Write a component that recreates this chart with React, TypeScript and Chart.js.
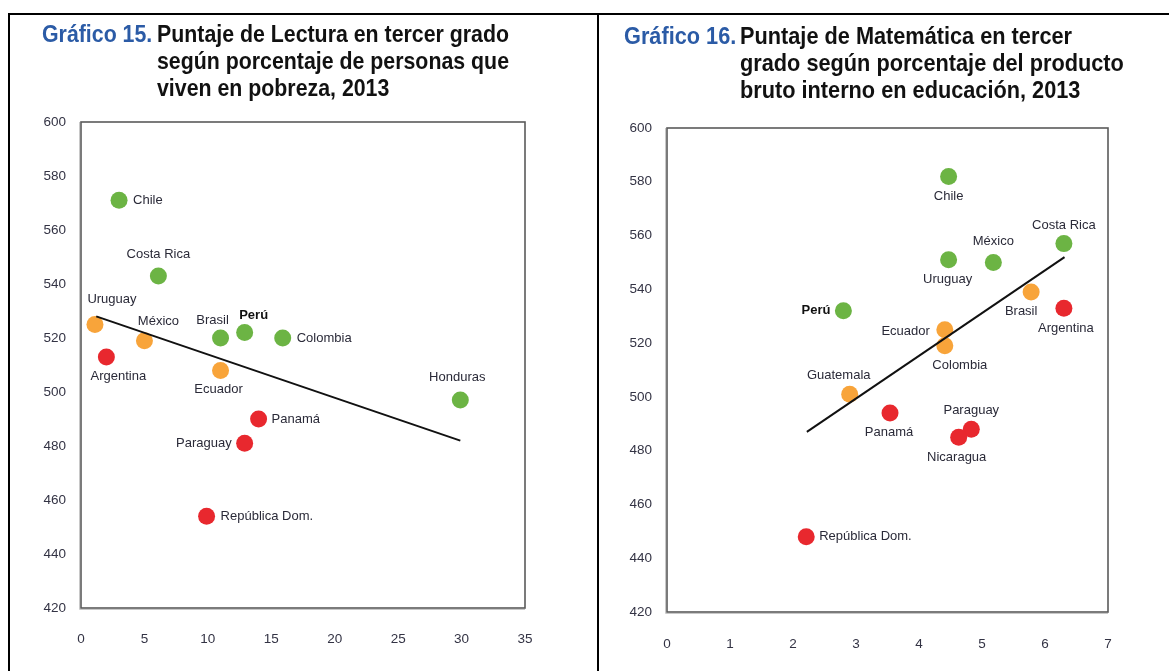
import React, { useEffect, useRef } from 'react';
import { Chart, registerables } from 'chart.js';

Chart.register(...registerables);

// ---------- Data: Gráfico 15 ----------
const countries1 = ['Chile', 'Costa Rica', 'Uruguay', 'Argentina', 'México', 'Brasil', 'Perú', 'Ecuador', 'Colombia', 'Honduras', 'Panamá', 'Paraguay', 'República Dom.'];
const poverty1 = [3.0, 6.1, 1.1, 2.0, 5.0, 11.0, 12.9, 11.0, 15.9, 29.9, 14.0, 12.9, 9.9];
const reading1 = [571, 543, 525, 513, 519, 520, 522, 508, 520, 497, 490, 481, 454];
const group1 = ['g', 'g', 'o', 'r', 'o', 'g', 'g', 'o', 'g', 'g', 'r', 'r', 'r'];
const trendX1 = [1.2, 29.9];
const trendY1 = [528, 482];
const xTicks1 = [0, 5, 10, 15, 20, 25, 30, 35];

// ---------- Data: Gráfico 16 ----------
const countries2 = ['Chile', 'Costa Rica', 'Uruguay', 'México', 'Brasil', 'Argentina', 'Perú', 'Ecuador', 'Colombia', 'Guatemala', 'Panamá', 'Paraguay', 'Nicaragua', 'República Dom.'];
const gdpEdu2 = [4.47, 6.3, 4.47, 5.18, 5.78, 6.3, 2.8, 4.41, 4.41, 2.9, 3.54, 4.83, 4.63, 2.21];
const math2 = [582, 557, 551, 550, 539, 533, 532, 525, 519, 501, 494, 488, 485, 448];
const group2 = ['g', 'g', 'g', 'g', 'o', 'r', 'g', 'o', 'o', 'o', 'r', 'r', 'r', 'r'];
const trendX2 = [2.22, 6.31];
const trendY2 = [487, 552];
const xTicks2 = [0, 1, 2, 3, 4, 5, 6, 7];

const yTicks = [420, 440, 460, 480, 500, 520, 540, 560, 580, 600];

const title1 = ['Gráfico 15.', 'Puntaje de Lectura en tercer grado', 'según porcentaje de personas que', 'viven en pobreza, 2013'];
const title2 = ['Gráfico 16.', 'Puntaje de Matemática en tercer', 'grado según porcentaje del producto', 'bruto interno en educación, 2013'];

// ---------- Styles / label placement ----------
const COLORS: Record<string, string> = { g: '#6cb444', o: '#f8a43a', r: '#e8282e' };

// [align, dx, dy]
type Place = [CanvasTextAlign, number, number];
const place1: Place[] = [
  ['left', 14, 0], ['center', 0, -21], ['center', 17, -25], ['center', 12, 20], ['center', 14, -19],
  ['center', -8, -18], ['center', 9, -17], ['center', -2, 19], ['left', 14, 0], ['center', -3, -23],
  ['left', 13, 0], ['right', -13, 0], ['left', 14, 0],
];
const place2: Place[] = [
  ['center', 0, 20], ['center', 0, -18], ['center', -1, 20], ['center', 0, -21], ['center', -10, 19],
  ['center', 2, 20], ['right', -13, 0], ['right', -15, 2], ['center', 15, 20], ['center', -11, -19],
  ['center', -1, 19], ['center', 0, -19], ['center', -2, 20], ['left', 13, 0],
];

const FONT = '"Liberation Sans", Arial, Helvetica, sans-serif';

interface Cfg {
  width: number;
  height: number;
  countries: string[];
  xs: number[];
  ys: number[];
  groups: string[];
  trendX: number[];
  trendY: number[];
  xTicks: number[];
  places: Place[];
  title: string[];
  pad: { left: number; top: number; right: number };
  yAxisW: number;
  xAxisH: number;
  xPad: number;
  titleX: number[];
  titleTarget: number;
  titleBase: number[];
}

function makeChart(canvas: HTMLCanvasElement, c: Cfg) {
  const overlay = {
    id: 'overlay' + Math.random(),
    beforeDatasetsDraw(chart: any) {
      const { ctx, chartArea: a } = chart;
      ctx.save();
      ctx.strokeStyle = '#c8c8c8';
      ctx.lineWidth = 1;
      ctx.beginPath();
      ctx.moveTo(a.left - 1.5, a.top);
      ctx.lineTo(a.left - 1.5, a.bottom + 1.5);
      ctx.lineTo(a.right, a.bottom + 1.5);
      ctx.stroke();
      ctx.strokeStyle = '#5a5a5a';
      ctx.lineWidth = 1.6;
      ctx.strokeRect(a.left, a.top, a.right - a.left, a.bottom - a.top);
      ctx.restore();
    },
    afterDraw(chart: any) {
      const { ctx } = chart;
      const xs = chart.scales.x;
      const ys = chart.scales.y;
      ctx.save();
      ctx.textBaseline = 'middle';
      c.countries.forEach((name, i) => {
        const px = xs.getPixelForValue(c.xs[i]);
        const py = ys.getPixelForValue(c.ys[i]);
        const [al, dx, dy] = c.places[i];
        const bold = name === 'Perú';
        ctx.font = (bold ? 'bold ' : '') + '13px ' + FONT;
        ctx.fillStyle = bold ? '#111' : '#2a2a38';
        ctx.textAlign = al;
        ctx.fillText(name, px + dx, py + dy);
      });
      // titles
      ctx.textAlign = 'left';
      ctx.textBaseline = 'alphabetic';
      ctx.font = 'bold 24px ' + FONT;
      const sx = c.titleTarget / ctx.measureText(c.title[1]).width;
      c.title.forEach((t, i) => {
        ctx.save();
        ctx.fillStyle = i === 0 ? '#2b5ba6' : '#111';
        ctx.translate(c.titleX[i], c.titleBase[i]);
        ctx.scale(sx, 1);
        ctx.fillText(t, 0, 0);
        ctx.restore();
      });
      ctx.restore();
    },
  };

  return new Chart(canvas, {
    type: 'scatter',
    data: {
      datasets: [
        {
          data: c.trendX.map((x, i) => ({ x, y: c.trendY[i] })),
          showLine: true,
          borderColor: '#111',
          borderWidth: 2,
          pointRadius: 0,
          order: 0,
        } as any,
        {
          data: c.xs.map((x, i) => ({ x, y: c.ys[i] })),
          backgroundColor: c.groups.map((g) => COLORS[g]),
          borderWidth: 0,
          pointRadius: 8.5,
          order: 1,
        } as any,
      ],
    },
    options: {
      responsive: false,
      animation: false,
      devicePixelRatio: 1,
      layout: { padding: { left: c.pad.left, top: c.pad.top, right: c.pad.right, bottom: 0 } },
      plugins: { legend: { display: false }, tooltip: { enabled: false } },
      scales: {
        x: {
          type: 'linear',
          min: c.xTicks[0],
          max: c.xTicks[c.xTicks.length - 1],
          afterFit: (s: any) => { s.height = c.xAxisH; },
          afterBuildTicks: (s: any) => { s.ticks = c.xTicks.map((v) => ({ value: v })); },
          grid: { display: false, drawTicks: false },
          border: { display: false },
          ticks: { padding: c.xPad, color: '#333344', font: { size: 13.5, family: FONT } },
        },
        y: {
          type: 'linear',
          min: yTicks[0],
          max: yTicks[yTicks.length - 1],
          afterFit: (s: any) => { s.width = c.yAxisW; },
          afterBuildTicks: (s: any) => { s.ticks = yTicks.map((v) => ({ value: v })); },
          grid: { display: false, drawTicks: false },
          border: { display: false },
          ticks: { padding: 15, color: '#333344', font: { size: 13.5, family: FONT } },
        },
      },
    },
    plugins: [overlay],
  });
}

function ChartBox({ cfg, left }: { cfg: Cfg; left: number }) {
  const ref = useRef<HTMLCanvasElement>(null);
  useEffect(() => {
    if (!ref.current) return;
    const ch = makeChart(ref.current, cfg);
    return () => ch.destroy();
  }, []);
  return (
    <canvas
      ref={ref}
      width={cfg.width}
      height={cfg.height}
      style={{ position: 'absolute', left, top: 0, width: cfg.width, height: cfg.height }}
    />
  );
}

const cfg1: Cfg = {
  width: 597,
  height: 671,
  countries: countries1,
  xs: poverty1,
  ys: reading1,
  groups: group1,
  trendX: trendX1,
  trendY: trendY1,
  xTicks: xTicks1,
  places: place1,
  title: title1,
  pad: { left: 0, top: 122, right: 72 },
  yAxisW: 81,
  xAxisH: 63,
  xPad: 23,
  titleX: [42, 157, 157, 157],
  titleTarget: 352,
  titleBase: [42, 42, 69, 96],
};

const cfg2: Cfg = {
  width: 570,
  height: 671,
  countries: countries2,
  xs: gdpEdu2,
  ys: math2,
  groups: group2,
  trendX: trendX2,
  trendY: trendY2,
  xTicks: xTicks2,
  places: place2,
  title: title2,
  pad: { left: 0, top: 128, right: 61 },
  yAxisW: 68,
  xAxisH: 59,
  xPad: 24,
  titleX: [624 - 599, 740 - 599, 740 - 599, 740 - 599],
  titleTarget: 332,
  titleBase: [44, 44, 71, 98],
};

export default function App() {
  return (
    <div style={{ position: 'absolute', left: 0, top: 0, width: 1169, height: 671, background: '#fff', overflow: 'hidden' }}>
      <ChartBox cfg={cfg1} left={0} />
      <ChartBox cfg={cfg2} left={599} />
      <div style={{ position: 'absolute', left: 8, top: 13, width: 1161, height: 2, background: '#000' }} />
      <div style={{ position: 'absolute', left: 8, top: 13, width: 2, height: 658, background: '#000' }} />
      <div style={{ position: 'absolute', left: 597, top: 13, width: 2, height: 658, background: '#000' }} />
    </div>
  );
}
